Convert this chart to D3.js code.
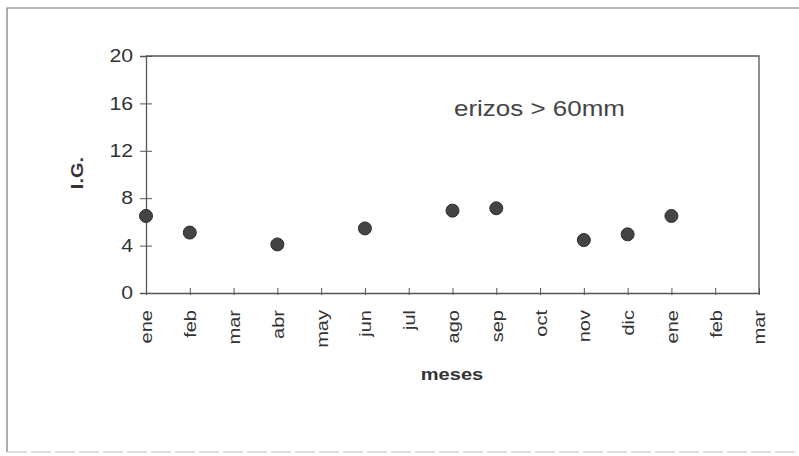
<!DOCTYPE html>
<html>
<head>
<meta charset="utf-8">
<script src="https://cdn.jsdelivr.net/npm/d3@7"></script>
<style>
body{margin:0;background:#fff;}
svg text{font-family:Arial,"Liberation Sans",sans-serif;}
</style>
</head>
<body>
<svg id="c" width="799" height="456"></svg>
<script>
const months = ["ene","feb","mar","abr","may","jun","jul","ago","sep","oct","nov","dic","ene","feb","mar"];
const pointIdx = [0, 1, 3, 5, 7, 8, 10, 11, 12];
const igValues = [6.5, 5.1, 4.1, 5.45, 6.95, 7.15, 4.47, 4.95, 6.5];
const yTicks = [0, 4, 8, 12, 16, 20];

const svg = d3.select("#c");
const L = 146, R = 759, T = 56, B = 293;
const ink = "#555";
const SX = 1.18;

// outer frame
svg.append("path").attr("d","M7,452 L7,8 L799,8").attr("fill","none").attr("stroke","#777").attr("stroke-width",1.2);
svg.append("line").attr("x1",7).attr("x2",799).attr("y1",452).attr("y2",452).attr("stroke","#bbb").attr("stroke-width",1).attr("stroke-dasharray","20,4");

const x = d3.scalePoint().domain(d3.range(months.length)).range([L, R]);
const y = d3.scaleLinear().domain([0, 20]).range([B, T]);

// plot box top/right
svg.append("path").attr("d",`M${L},${T} L${R},${T} L${R},${B}`).attr("fill","none").attr("stroke",ink).attr("stroke-width",1.3);

// y axis
const ya = svg.append("g").attr("transform",`translate(${L},0)`)
  .call(d3.axisLeft(y).tickValues(yTicks).tickSize(6).tickPadding(6));
ya.select(".domain").attr("stroke",ink).attr("stroke-width",1.3);
ya.selectAll(".tick line").attr("stroke",ink).attr("x2",-6).attr("x1",6);
ya.selectAll(".tick text").attr("font-size",18).attr("fill","#333")
  .attr("x",-13/SX).attr("transform",`scale(${SX},1)`);

// x axis
const xa = svg.append("g").attr("transform",`translate(0,${B})`)
  .call(d3.axisBottom(x).tickFormat(i => months[i]).tickSize(0).tickPadding(0));
xa.select(".domain").attr("stroke",ink).attr("stroke-width",1.3);
xa.selectAll(".tick line").attr("stroke",ink).attr("y1",-5).attr("y2",2);
xa.selectAll(".tick text").attr("font-size",17).attr("fill","#333")
  .attr("transform",`rotate(-90) scale(${SX},1)`).attr("text-anchor","end").attr("dy","0.35em").attr("x",-17/SX).attr("y",0);

// points
svg.append("g").selectAll("circle").data(igValues).join("circle")
  .attr("cx",(d,i)=>x(pointIdx[i])).attr("cy",d=>y(d)).attr("r",6.5)
  .attr("fill","#444").attr("stroke","#2e2e2e").attr("stroke-width",1);

// labels
svg.append("text").attr("transform",`translate(83,173) rotate(-90) scale(${SX},1)`).attr("text-anchor","middle")
  .attr("font-size",17).attr("font-weight","bold").attr("fill","#333").text("I.G.");
svg.append("text").attr("transform",`translate(452,380) scale(${SX},1)`).attr("text-anchor","middle")
  .attr("font-size",17).attr("font-weight","bold").attr("fill","#333").text("meses");
svg.append("text").attr("transform",`translate(454,116) scale(${SX},1)`)
  .attr("font-size",22).attr("fill","#444").text("erizos > 60mm");
</script>
</body>
</html>
